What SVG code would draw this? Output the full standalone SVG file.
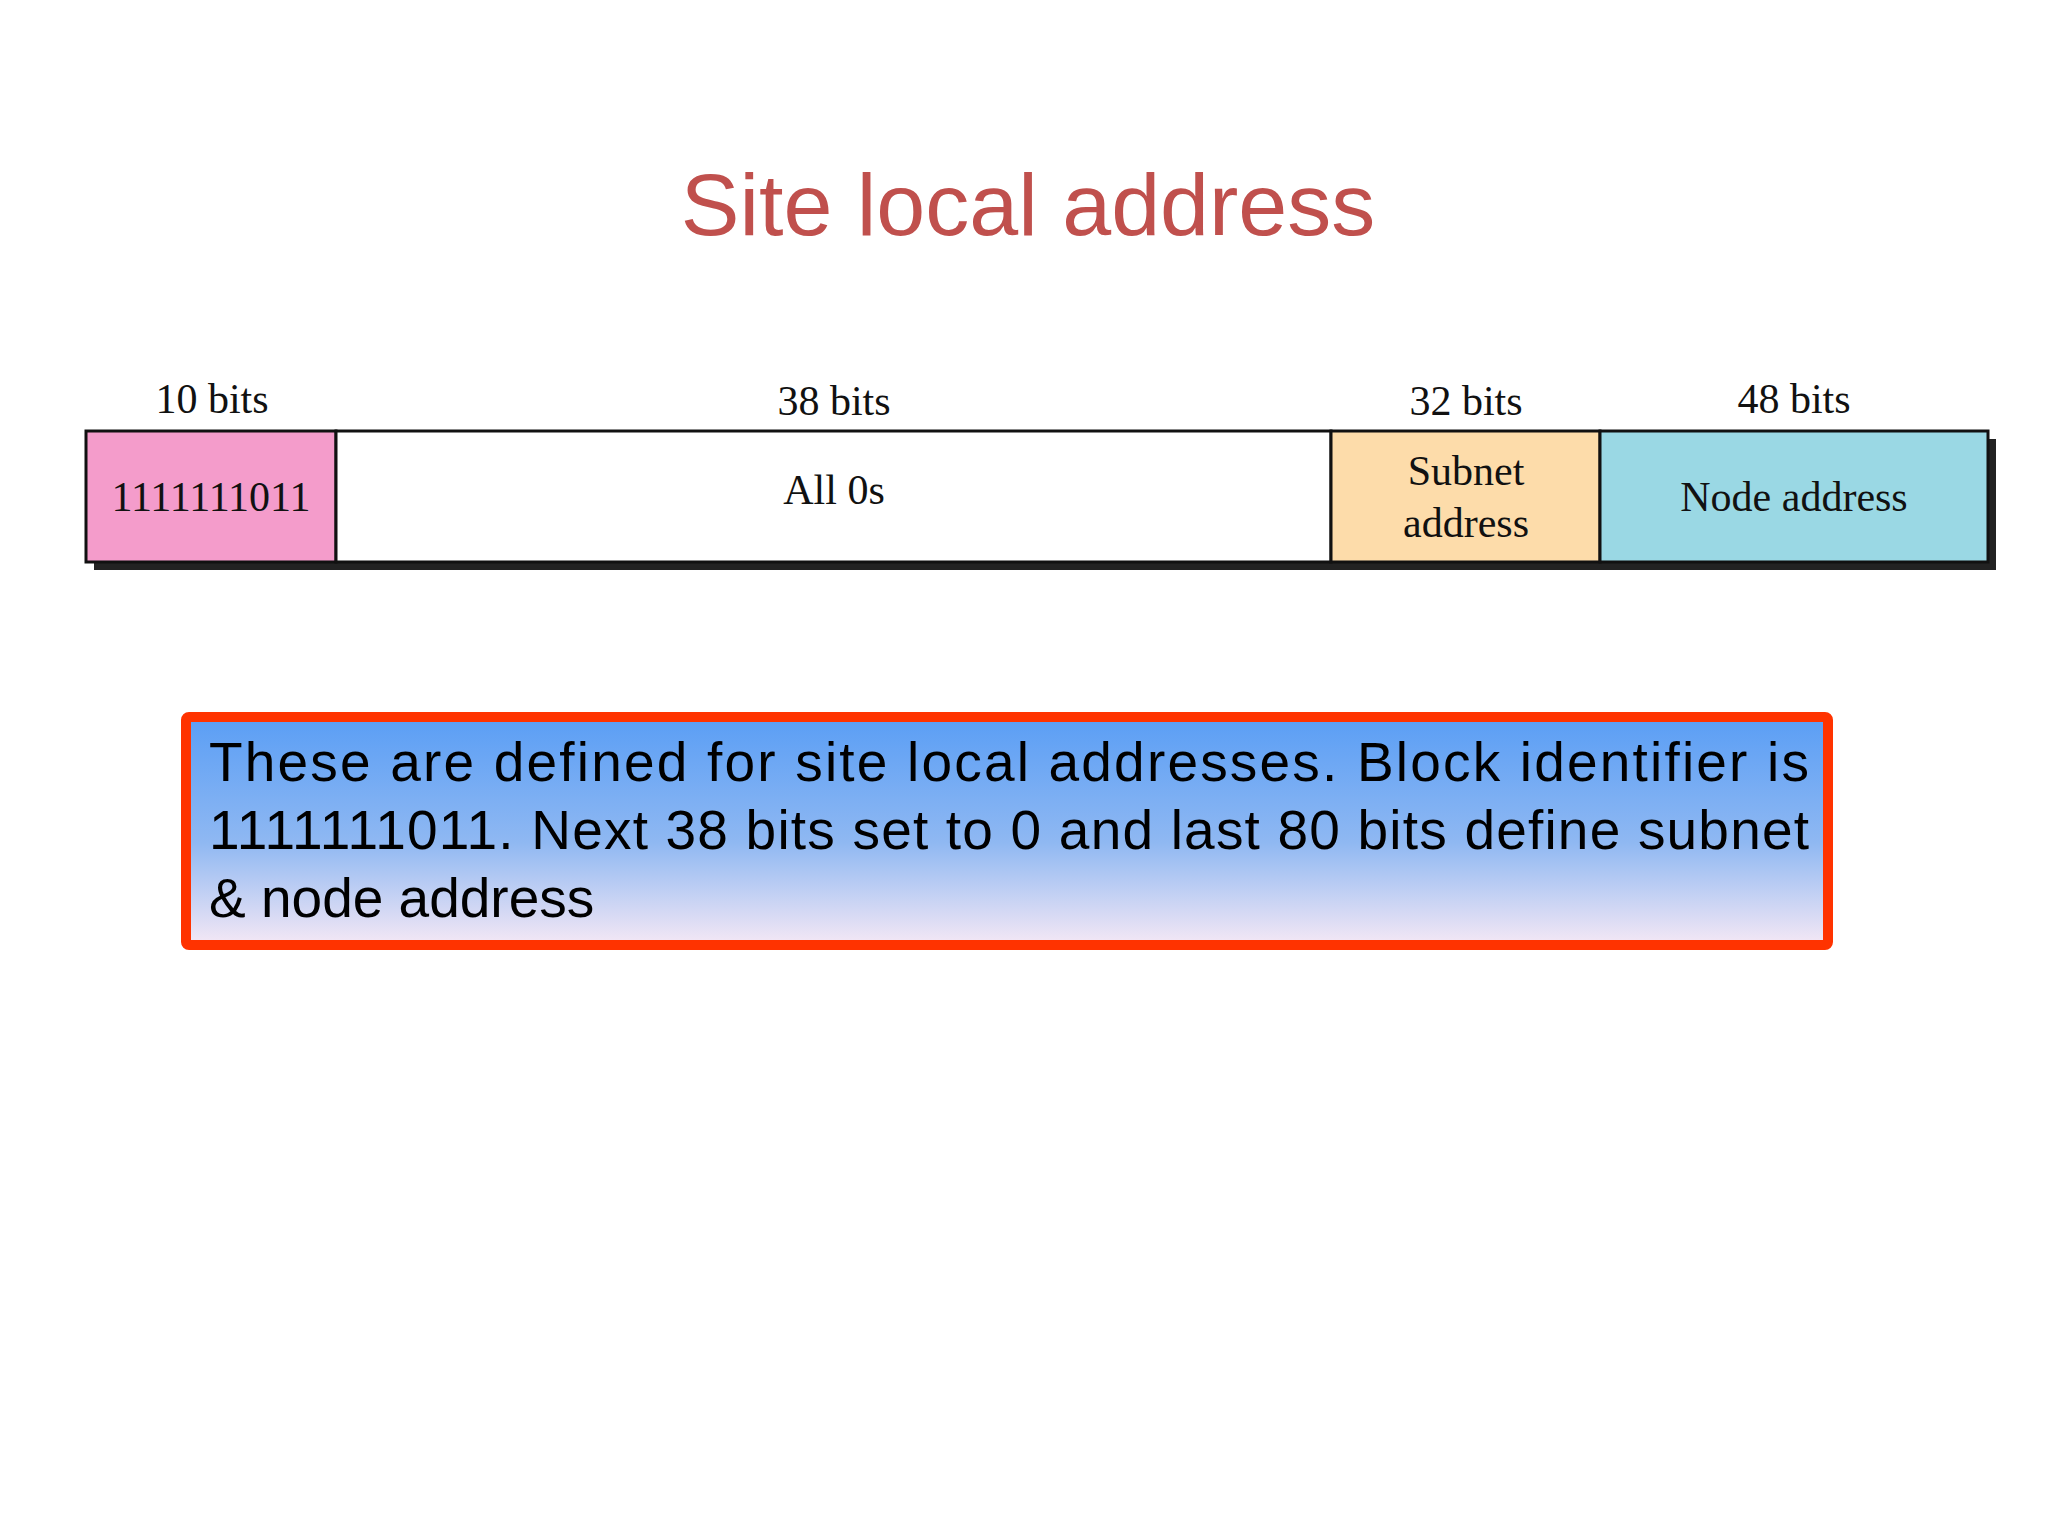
<svg xmlns="http://www.w3.org/2000/svg" width="2048" height="1536" viewBox="0 0 2048 1536">
<style>
.lbl{font-family:"Liberation Serif",serif;font-size:42px;fill:#111;text-anchor:middle}
.cell{stroke:#111;stroke-width:3}
.body{font-family:"Liberation Sans",Arial,sans-serif;font-size:55px;fill:#000}
</style>
<defs>
<linearGradient id="g" x1="0" y1="0" x2="0" y2="1">
<stop offset="0" stop-color="#5a9ef5"/><stop offset="0.55" stop-color="#8fb8f2"/><stop offset="1" stop-color="#f5e8f5"/>
</linearGradient>
</defs>
<rect width="2048" height="1536" fill="#fff"/>
<text x="1028" y="235" font-family="Liberation Sans,Arial,sans-serif" font-size="88" fill="#c0504d" text-anchor="middle">Site local address</text>
<g id="bar">
<rect x="94" y="439" width="1902" height="131" fill="#222"/>
<g id="n1"><rect class="cell" x="86" y="431" width="250" height="131" fill="#f49ccb"/><text class="lbl" x="211" y="511">1111111011</text><text class="lbl" x="212" y="413">10 bits</text></g>
<g id="n2"><rect class="cell" x="336" y="431" width="995" height="131" fill="#fff"/><text class="lbl" x="834" y="504">All 0s</text><text class="lbl" x="834" y="415">38 bits</text></g>
<g id="n3"><rect class="cell" x="1331" y="431" width="269" height="131" fill="#fddcaa"/><text class="lbl" x="1466" y="485">Subnet</text><text class="lbl" x="1466" y="537">address</text><text class="lbl" x="1466" y="415">32 bits</text></g>
<g id="n4"><rect class="cell" x="1600" y="431" width="388" height="131" fill="#9ad8e4"/><text class="lbl" x="1794" y="511">Node address</text><text class="lbl" x="1794" y="413">48 bits</text></g>
</g>
<g id="note">
<rect x="186" y="717" width="1642" height="228" fill="url(#g)" stroke="#ff3300" stroke-width="10" rx="3"/>
<text class="body" x="209" y="781" textLength="1600" lengthAdjust="spacing">These are defined for site local addresses.  Block identifier is</text>
<text class="body" x="209" y="849" textLength="1600" lengthAdjust="spacing">1111111011. Next 38 bits set to 0 and last 80 bits define subnet</text>
<text class="body" x="209" y="917">&amp; node address</text>
</g>
</svg>
